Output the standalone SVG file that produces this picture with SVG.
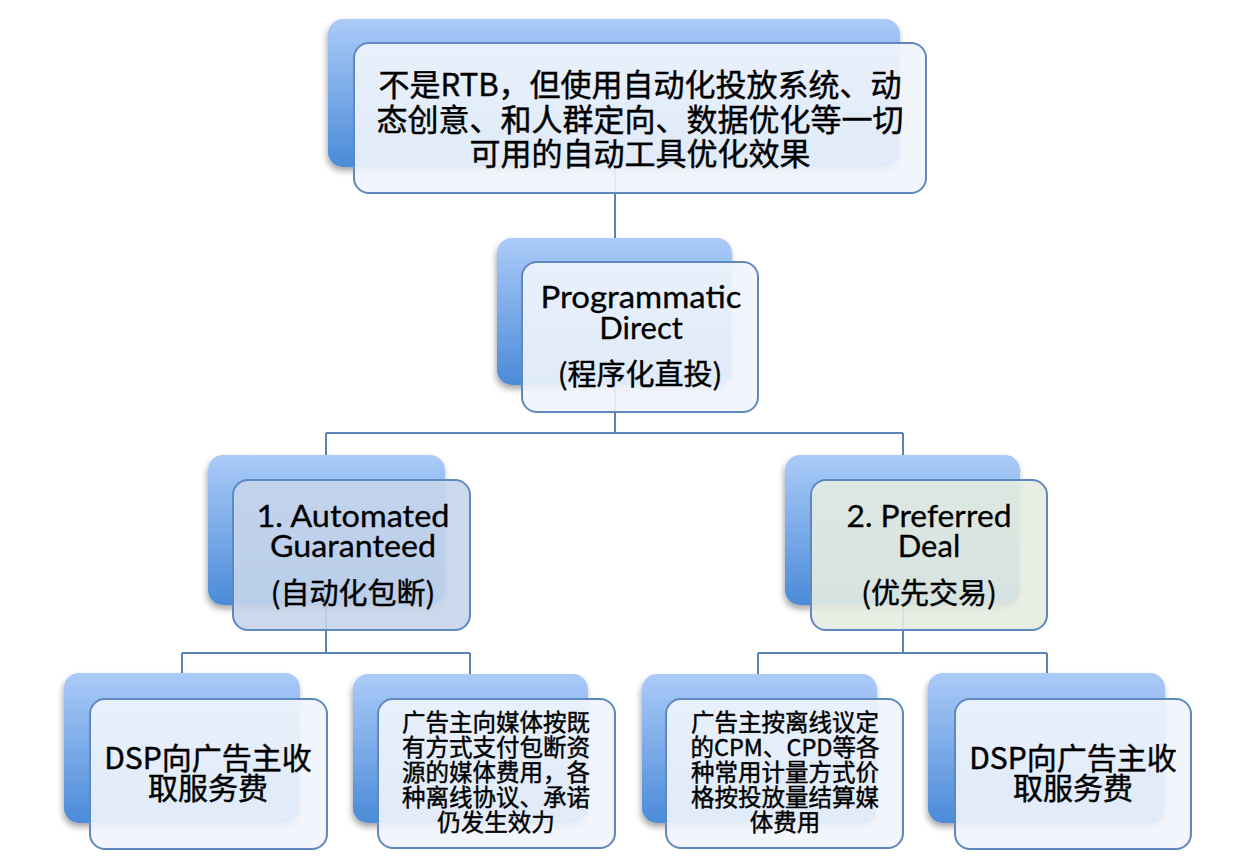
<svg xmlns="http://www.w3.org/2000/svg" width="1249" height="862" viewBox="0 0 1249 862">
<defs>
<linearGradient id="bg" x1="0" y1="0" x2="0" y2="1">
<stop offset="0" stop-color="#abcbf8"/>
<stop offset="1" stop-color="#4b8bd8"/>
</linearGradient>
<filter id="sh" x="-10%" y="-10%" width="120%" height="130%">
<feDropShadow dx="-1" dy="4" stdDeviation="3" flood-color="#000" flood-opacity="0.35"/>
</filter>
<style>
.back{fill:url(#bg);filter:url(#sh);}
.front{fill:#f1f5fc;fill-opacity:0.9;stroke:#5f88bf;stroke-width:2;}
.ag{fill:#c6d5eb;}
.pd{fill:#e5ece0;}
.conn{fill:none;stroke:#5b82b8;stroke-width:2;}
text{font-family:"Noto Sans CJK SC","Noto Sans",sans-serif;fill:#000;text-anchor:middle;font-weight:normal;stroke:#000;stroke-width:0.45;}
.lat{font-family:"Lato","Noto Sans CJK SC",sans-serif;font-size:31px;stroke-width:0.3;}
.cjk29{font-size:29px;}
.t31{font-size:31px;}
.t30{font-size:30px;}
.t24{font-size:23.5px;}
</style>
</defs>
<rect width="1249" height="862" fill="#fff"/>
<g id="connectors">
<path class="conn" d="M615 105V238M615 336V433M326 433H903M326 433V455M903 433V455M326 555V653M182 653H470M182 653V673M470 653V674M903 555V653M758 653H1047M758 653V674M1047 653V673"/>
</g>
<g id="node-top">
<rect class="back" x="328" y="19" width="572" height="148" rx="15"/>
<rect class="front" x="354" y="43" width="572" height="150" rx="15"/>
<text class="t31" x="640" y="96">不是RTB，但使用自动化投放系统、动<tspan x="640" dy="35">态创意、和人群定向、数据优化等一切</tspan><tspan x="640" dy="34">可用的自动工具优化效果</tspan></text>
</g>
<g id="node-pd">
<rect class="back" x="497" y="238" width="235" height="147" rx="15"/>
<rect class="front" x="522" y="262" width="236" height="150" rx="15"/>
<text class="lat" x="641" y="308"><tspan x="641" textLength="201" lengthAdjust="spacingAndGlyphs">Programmatic</tspan><tspan x="641" dy="31">Direct</tspan></text>
<text class="cjk29" x="640" y="385">(程序化直投)</text>
</g>
<g id="node-ag">
<rect class="back" x="208" y="455" width="237" height="150" rx="15"/>
<rect class="front ag" x="233" y="480" width="237" height="150" rx="15"/>
<text class="lat" x="353" y="527"><tspan x="353" textLength="193" lengthAdjust="spacingAndGlyphs">1. Automated</tspan><tspan x="353" dy="30" textLength="166" lengthAdjust="spacingAndGlyphs">Guaranteed</tspan></text>
<text class="cjk29" x="353" y="604">(自动化包断)</text>
</g>
<g id="node-prefd">
<rect class="back" x="785" y="455" width="235" height="150" rx="15"/>
<rect class="front pd" x="811" y="480" width="236" height="150" rx="15"/>
<text class="lat" x="929" y="527"><tspan x="929" textLength="165" lengthAdjust="spacingAndGlyphs">2. Preferred</tspan><tspan x="929" dy="30">Deal</tspan></text>
<text class="cjk29" x="929" y="604">(优先交易)</text>
</g>
<g id="node-b1">
<rect class="back" x="64" y="673" width="236" height="150" rx="15"/>
<rect class="front" x="90" y="699" width="237" height="150" rx="15"/>
<text class="t30" x="208" y="769">DSP向广告主收<tspan x="208" dy="30">取服务费</tspan></text>
</g>
<g id="node-b2">
<rect class="back" x="353" y="674" width="235" height="149" rx="15"/>
<rect class="front" x="378" y="699" width="237" height="149" rx="15"/>
<text class="t24" x="496" y="731">广告主向媒体按既<tspan x="496" dy="25">有方式支付包断资</tspan><tspan x="496" dy="25">源的媒体费用，各</tspan><tspan x="496" dy="25">种离线协议、承诺</tspan><tspan x="496" dy="25">仍发生效力</tspan></text>
</g>
<g id="node-b3">
<rect class="back" x="642" y="674" width="235" height="149" rx="15"/>
<rect class="front" x="666" y="699" width="237" height="149" rx="15"/>
<text class="t24" x="785" y="731">广告主按离线议定<tspan x="785" dy="25">的CPM、CPD等各</tspan><tspan x="785" dy="25">种常用计量方式价</tspan><tspan x="785" dy="25">格按投放量结算媒</tspan><tspan x="785" dy="25">体费用</tspan></text>
</g>
<g id="node-b4">
<rect class="back" x="928" y="673" width="237" height="150" rx="15"/>
<rect class="front" x="955" y="699" width="236" height="150" rx="15"/>
<text class="t30" x="1073" y="769">DSP向广告主收<tspan x="1073" dy="30">取服务费</tspan></text>
</g>
</svg>
